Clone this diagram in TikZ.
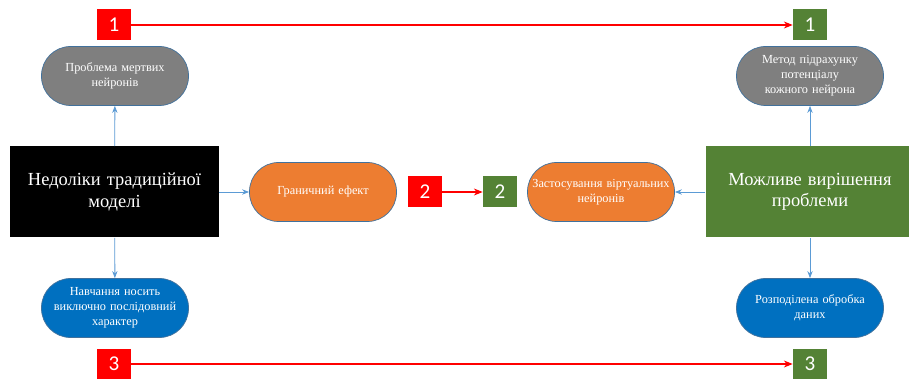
\documentclass[tikz,border=0pt]{standalone}
\usepackage{fontspec}
\setmainfont{Liberation Serif}
\newfontfamily\numfont{Carlito}
\newfontfamily\termfont{Liberation Serif}
\usetikzlibrary{arrows.meta}

\definecolor{termgray}{HTML}{7F7F7F}
\definecolor{termorange}{HTML}{ED7D31}
\definecolor{termblue}{HTML}{0070C0}
\definecolor{boxgreen}{HTML}{548235}
\definecolor{termline}{HTML}{41719C}
\definecolor{linkblue}{HTML}{5B9BD5}

\tikzset{
  term/.style={draw=termline, line width=0.4pt, rounded corners=0.58cm,
    minimum width=2.94cm, minimum height=1.18cm, text width=2.9cm, inner xsep=0pt,
    align=center, text=white, font=\termfont\fontsize{7}{8.6}\selectfont},
  bigbox/.style={minimum width=4.18cm, minimum height=1.82cm, text width=3.9cm,
    inner xsep=0pt, align=center, text=white, font=\termfont\fontsize{10.5}{12}\selectfont},
  numbox/.style={minimum width=0.68cm, minimum height=0.62cm, inner sep=0pt,
    text=white, font=\numfont\fontsize{12}{12}\selectfont},
  link/.style={draw=linkblue, line width=0.5pt, -{Stealth[length=4pt,width=3pt]}},
  jump/.style={draw=red, line width=0.6pt, -{Stealth[length=5pt,width=4pt]}}
}

\begin{document}
\begin{tikzpicture}
  \useasboundingbox[fill=white] (0,0) rectangle (18.18,7.56);

  % left column: drawbacks
  \node[bigbox, fill=black] (drawbacks) at (2.29,3.72) {Недоліки традиційної\\моделі};
  \node[term, fill=termgray] (dead) at (2.3,6.04) {Проблема мертвих\\нейронів};
  \node[term, fill=termorange] (border) at (6.46,3.72) {Граничний ефект};
  \node[term, fill=termblue] (serial) at (2.3,1.4) {Навчання носить\\виключно послідовний\\характер};

  % right column: solutions
  \node[bigbox, fill=boxgreen] (solution) at (16.2,3.72) {Можливе вирішення\\проблеми};
  \node[term, fill=termgray] (count) at (16.2,6.04) {Метод підрахунку\\потенціалу\\кожного нейрона};
  \node[term, fill=termorange] (virtual) at (12.02,3.72) {Застосування віртуальних\\нейронів};
  \node[term, fill=termblue] (distrib) at (16.2,1.4) {Розподілена обробка\\даних};

  % numbered markers
  \node[numbox, fill=red] (p1) at (2.28,7.06) {1};
  \node[numbox, fill=boxgreen] (s1) at (16.2,7.06) {1};
  \node[numbox, fill=red] (p2) at (8.5,3.72) {2};
  \node[numbox, fill=boxgreen] (s2) at (10.0,3.72) {2};
  \node[numbox, fill=red] (p3) at (2.28,0.28) {3};
  \node[numbox, fill=boxgreen] (s3) at (16.2,0.28) {3};

  \draw[link] (drawbacks) -- (dead);
  \draw[link] (drawbacks) -- (border);
  \draw[link] (drawbacks) -- (serial);
  \draw[link] (solution) -- (count);
  \draw[link] (solution) -- (virtual);
  \draw[link] (solution) -- (distrib);

  \draw[jump] (p1) -- (s1);
  \draw[jump] (p2) -- (s2);
  \draw[jump] (p3) -- (s3);
\end{tikzpicture}
\end{document}
